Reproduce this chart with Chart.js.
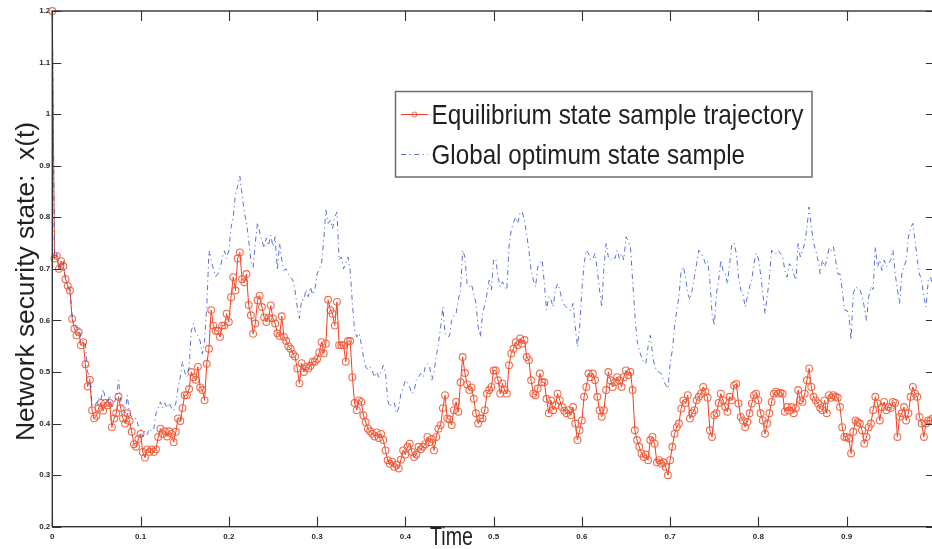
<!DOCTYPE html>
<html>
<head>
<meta charset="utf-8">
<script src="https://cdn.jsdelivr.net/npm/chart.js@4.4.1/dist/chart.umd.min.js"></script>
<style>
  html, body { margin: 0; padding: 0; background: #fff; overflow: hidden; }
  #wrap { position: relative; width: 940px; height: 549px; }
</style>
</head>
<body>
<div id="wrap"><canvas id="chart" width="940" height="549"></canvas></div>
<script>
// Sampling interval of both trajectories
const timeStep = 0.0025;

// Equilibrium state sample trajectory, one value per time step
const equilibriumState = [
  1.2, 0.72, 0.725, 0.70, 0.715, 0.705, 0.68, 0.667, 0.658, 0.603, 0.584, 0.571, 0.577, 0.552, 0.558, 0.515, 0.472, 0.485, 0.426, 0.41,
  0.415, 0.43, 0.44, 0.425, 0.44, 0.435, 0.44, 0.393, 0.41, 0.42, 0.452, 0.43, 0.41, 0.40, 0.42, 0.405, 0.384, 0.36, 0.355, 0.37,
  0.38, 0.345, 0.334, 0.35, 0.345, 0.35, 0.345, 0.35, 0.374, 0.39, 0.38, 0.385, 0.375, 0.385, 0.38, 0.364, 0.384, 0.41, 0.405, 0.43,
  0.455, 0.455, 0.467, 0.50, 0.49, 0.485, 0.51, 0.47, 0.465, 0.445, 0.516, 0.545, 0.62, 0.59, 0.58, 0.58, 0.568, 0.59, 0.59, 0.613,
  0.597, 0.645, 0.684, 0.658, 0.72, 0.732, 0.68, 0.674, 0.69, 0.63, 0.61, 0.574, 0.594, 0.639, 0.648, 0.626, 0.606, 0.597, 0.605, 0.629,
  0.604, 0.594, 0.575, 0.57, 0.608, 0.568, 0.56, 0.55, 0.545, 0.535, 0.53, 0.507, 0.478, 0.517, 0.50, 0.51, 0.507, 0.512, 0.52, 0.52,
  0.525, 0.538, 0.558, 0.536, 0.555, 0.64, 0.62, 0.613, 0.59, 0.636, 0.552, 0.552, 0.552, 0.52, 0.56, 0.56, 0.49, 0.44, 0.426, 0.445,
  0.442, 0.416, 0.403, 0.39, 0.385, 0.38, 0.375, 0.383, 0.372, 0.38, 0.368, 0.348, 0.329, 0.322, 0.326, 0.316, 0.32, 0.313, 0.33, 0.348,
  0.34, 0.355, 0.361, 0.345, 0.335, 0.34, 0.355, 0.35, 0.355, 0.36, 0.374, 0.364, 0.37, 0.348, 0.374, 0.39, 0.397, 0.43, 0.455, 0.41,
  0.408, 0.397, 0.426, 0.442, 0.423, 0.48, 0.529, 0.498, 0.476, 0.465, 0.47, 0.448, 0.42, 0.40, 0.41, 0.41, 0.426, 0.458, 0.465, 0.471,
  0.503, 0.503, 0.484, 0.458, 0.478, 0.465, 0.458, 0.513, 0.536, 0.545, 0.558, 0.552, 0.565, 0.555, 0.562, 0.529, 0.523, 0.484, 0.458, 0.455,
  0.468, 0.497, 0.48, 0.48, 0.448, 0.42, 0.445, 0.426, 0.435, 0.458, 0.445, 0.432, 0.425, 0.42, 0.426, 0.416, 0.432, 0.40, 0.368, 0.387,
  0.406, 0.452, 0.471, 0.497, 0.49, 0.497, 0.484, 0.452, 0.426, 0.413, 0.426, 0.465, 0.50, 0.484, 0.471, 0.48, 0.49, 0.484, 0.471, 0.49,
  0.503, 0.494, 0.50, 0.465, 0.387, 0.368, 0.355, 0.342, 0.335, 0.34, 0.329, 0.368, 0.374, 0.361, 0.325, 0.329, 0.322, 0.325, 0.316, 0.30,
  0.329, 0.355, 0.38, 0.393, 0.40, 0.429, 0.445, 0.44, 0.455, 0.41, 0.42, 0.426, 0.445, 0.452, 0.458, 0.471, 0.462, 0.45, 0.387, 0.374,
  0.416, 0.42, 0.44, 0.458, 0.445, 0.432, 0.423, 0.452, 0.445, 0.474, 0.477, 0.439, 0.413, 0.406, 0.393, 0.403, 0.42, 0.439, 0.455, 0.458,
  0.445, 0.42, 0.406, 0.38, 0.40, 0.42, 0.442, 0.458, 0.462, 0.458, 0.46, 0.458, 0.423, 0.432, 0.425, 0.432, 0.42, 0.43, 0.465, 0.445,
  0.442, 0.458, 0.484, 0.507, 0.471, 0.452, 0.445, 0.439, 0.43, 0.426, 0.445, 0.42, 0.455, 0.45, 0.455, 0.452, 0.45, 0.432, 0.393, 0.374,
  0.374, 0.371, 0.342, 0.384, 0.406, 0.403, 0.40, 0.387, 0.361, 0.374, 0.393, 0.40, 0.426, 0.452, 0.439, 0.406, 0.432, 0.442, 0.426, 0.432,
  0.43, 0.442, 0.44, 0.374, 0.413, 0.42, 0.432, 0.406, 0.42, 0.452, 0.471, 0.458, 0.452, 0.413, 0.40, 0.374, 0.40, 0.406, 0.406, 0.41
];

// Global optimum state sample, one value per time step
const globalOptimumState = [
  1.2, 0.72, 0.73, 0.71, 0.70, 0.715, 0.68, 0.665, 0.66, 0.61, 0.595, 0.585, 0.59, 0.565, 0.56, 0.555, 0.50, 0.49, 0.44, 0.432,
  0.44, 0.45, 0.445, 0.467, 0.45, 0.44, 0.455, 0.43, 0.44, 0.45, 0.484, 0.445, 0.43, 0.42, 0.455, 0.42, 0.413, 0.41, 0.41, 0.395,
  0.39, 0.374, 0.385, 0.378, 0.39, 0.385, 0.39, 0.42, 0.43, 0.442, 0.43, 0.44, 0.43, 0.44, 0.43, 0.425, 0.44, 0.47, 0.49, 0.52,
  0.50, 0.49, 0.51, 0.58, 0.594, 0.575, 0.57, 0.56, 0.535, 0.56, 0.626, 0.735, 0.716, 0.70, 0.685, 0.69, 0.70, 0.72, 0.735, 0.72,
  0.735, 0.78, 0.80, 0.845, 0.86, 0.88, 0.845, 0.81, 0.79, 0.755, 0.716, 0.703, 0.75, 0.79, 0.77, 0.755, 0.74, 0.76, 0.745, 0.765,
  0.743, 0.762, 0.697, 0.75, 0.717, 0.697, 0.70, 0.69, 0.684, 0.678, 0.659, 0.626, 0.604, 0.64, 0.64, 0.66, 0.646, 0.665, 0.65, 0.66,
  0.69, 0.70, 0.71, 0.755, 0.814, 0.788, 0.794, 0.778, 0.80, 0.81, 0.717, 0.723, 0.70, 0.71, 0.723, 0.697, 0.633, 0.58, 0.568, 0.575,
  0.555, 0.53, 0.51, 0.505, 0.51, 0.503, 0.49, 0.50, 0.49, 0.50, 0.513, 0.50, 0.445, 0.432, 0.44, 0.44, 0.42, 0.43, 0.458, 0.47,
  0.484, 0.478, 0.47, 0.458, 0.465, 0.484, 0.49, 0.497, 0.49, 0.51, 0.516, 0.51, 0.484, 0.50, 0.53, 0.555, 0.587, 0.626, 0.575, 0.568,
  0.57, 0.60, 0.61, 0.613, 0.64, 0.659, 0.736, 0.723, 0.671, 0.665, 0.67, 0.652, 0.633, 0.587, 0.568, 0.613, 0.63, 0.652, 0.678, 0.659,
  0.717, 0.72, 0.684, 0.665, 0.675, 0.665, 0.659, 0.743, 0.775, 0.79, 0.80, 0.788, 0.81, 0.81, 0.794, 0.765, 0.736, 0.697, 0.678, 0.665,
  0.704, 0.71, 0.717, 0.671, 0.62, 0.646, 0.64, 0.626, 0.66, 0.671, 0.659, 0.64, 0.63, 0.626, 0.62, 0.62, 0.633, 0.587, 0.549, 0.587,
  0.659, 0.71, 0.736, 0.73, 0.717, 0.72, 0.73, 0.697, 0.659, 0.626, 0.704, 0.749, 0.723, 0.717, 0.723, 0.72, 0.736, 0.72, 0.73, 0.717,
  0.762, 0.755, 0.743, 0.678, 0.613, 0.562, 0.542, 0.529, 0.52, 0.516, 0.549, 0.571, 0.536, 0.51, 0.503, 0.50, 0.497, 0.484, 0.475, 0.468,
  0.516, 0.542, 0.587, 0.62, 0.646, 0.697, 0.704, 0.684, 0.652, 0.64, 0.659, 0.684, 0.71, 0.736, 0.73, 0.723, 0.71, 0.715, 0.678, 0.613,
  0.59, 0.652, 0.678, 0.717, 0.697, 0.69, 0.671, 0.71, 0.749, 0.75, 0.73, 0.684, 0.659, 0.652, 0.626, 0.646, 0.665, 0.678, 0.71, 0.73,
  0.72, 0.69, 0.652, 0.613, 0.646, 0.684, 0.736, 0.73, 0.73, 0.736, 0.73, 0.723, 0.697, 0.684, 0.71, 0.704, 0.69, 0.678, 0.749, 0.723,
  0.736, 0.749, 0.78, 0.82, 0.781, 0.75, 0.736, 0.717, 0.69, 0.717, 0.704, 0.717, 0.74, 0.735, 0.743, 0.717, 0.69, 0.69, 0.659, 0.62,
  0.62, 0.613, 0.562, 0.652, 0.665, 0.662, 0.66, 0.646, 0.626, 0.60, 0.646, 0.665, 0.66, 0.743, 0.704, 0.717, 0.697, 0.717, 0.704, 0.71,
  0.717, 0.736, 0.69, 0.66, 0.633, 0.69, 0.704, 0.717, 0.762, 0.78, 0.788, 0.755, 0.717, 0.69, 0.678, 0.646, 0.626, 0.678, 0.684, 0.67
];

const seriesNames = ['Equilibrium state sample trajectory', 'Global optimum state sample'];
const xAxisTitle = 'Time';
const yAxisTitle = 'Network security state:  x(t)';

const INK = '#231f20';
const AXIS_INK = '#333333';

const toPoints = values => values.map((v, i) => ({ x: +(i * timeStep).toFixed(4), y: v }));
const tickText = v => String(Math.round(v * 10) / 10);

// Box frame with short inward ticks on all four sides
const frameTicks = {
  id: 'frameTicks',
  afterDatasetsDraw(chart) {
    const { ctx, chartArea: a, scales: { x, y } } = chart;
    ctx.save();
    ctx.strokeStyle = AXIS_INK;
    ctx.lineWidth = 1.1;
    ctx.beginPath();
    x.ticks.forEach(t => {
      const px = Math.round(x.getPixelForValue(t.value)) + 0.5;
      ctx.moveTo(px, a.bottom); ctx.lineTo(px, a.bottom - 10);
      ctx.moveTo(px, a.top); ctx.lineTo(px, a.top + 10);
    });
    y.ticks.forEach(t => {
      const py = Math.round(y.getPixelForValue(t.value)) + 0.5;
      ctx.moveTo(a.left, py); ctx.lineTo(a.left + 9, py);
      ctx.moveTo(a.right, py); ctx.lineTo(a.right - 9, py);
    });
    ctx.stroke();
    ctx.lineWidth = 1.4;
    ctx.strokeRect(a.left, a.top, a.right - a.left, a.bottom - a.top);
    ctx.restore();
  }
};

// Axis titles, placed as in the printed figure
const axisTitles = {
  id: 'axisTitles',
  afterDraw(chart) {
    const ctx = chart.ctx;
    const xt = chart.options.scales.x.title.text;
    const yt = chart.options.scales.y.title.text;
    ctx.save();
    ctx.fillStyle = INK;
    ctx.textAlign = 'center';
    ctx.textBaseline = 'alphabetic';
    ctx.font = '25px "Liberation Sans", Arial, sans-serif';
    ctx.fillText(xt, 451.5, 545, 43);
    ctx.font = '26.5px "Liberation Sans", Arial, sans-serif';
    ctx.translate(33.5, 281.5);
    ctx.rotate(-Math.PI / 2);
    ctx.fillText(yt, 0, 0, 319);
    ctx.restore();
  }
};

// Boxed legend inside the plot
const boxLegend = {
  id: 'boxLegend',
  afterDraw(chart) {
    const ctx = chart.ctx;
    const [eq, go] = chart.data.datasets;
    ctx.save();
    ctx.fillStyle = '#ffffff';
    ctx.fillRect(395.5, 91.5, 416.5, 85.5);
    ctx.strokeStyle = '#6e6e6e';
    ctx.lineWidth = 1.5;
    ctx.strokeRect(395.5, 91.5, 416.5, 85.5);

    ctx.lineWidth = 1;
    ctx.strokeStyle = eq.borderColor;
    ctx.beginPath(); ctx.moveTo(401, 114.5); ctx.lineTo(428, 114.5); ctx.stroke();
    ctx.strokeStyle = eq.pointBorderColor;
    ctx.beginPath(); ctx.arc(414.5, 114.5, 2.5, 0, 2 * Math.PI); ctx.stroke();

    ctx.strokeStyle = go.borderColor;
    ctx.setLineDash(go.borderDash);
    ctx.beginPath(); ctx.moveTo(401, 154.5); ctx.lineTo(428, 154.5); ctx.stroke();
    ctx.setLineDash([]);

    ctx.fillStyle = INK;
    ctx.font = '28px "Liberation Sans", Arial, sans-serif';
    ctx.textAlign = 'left';
    ctx.textBaseline = 'alphabetic';
    ctx.fillText(eq.label, 431.5, 124, 372);
    ctx.fillText(go.label, 431.5, 164, 313.5);
    ctx.restore();
  }
};

new Chart(document.getElementById('chart'), {
  type: 'line',
  data: {
    datasets: [
      {
        label: seriesNames[0],
        data: toPoints(equilibriumState),
        borderColor: '#ef4026',
        borderWidth: 1,
        pointStyle: 'circle',
        pointRadius: 3.4,
        pointBorderWidth: 1.1,
        pointBorderColor: 'rgba(240,88,52,0.88)',
        pointBackgroundColor: 'rgba(0,0,0,0)',
        tension: 0,
        clip: false,
        order: 1
      },
      {
        label: seriesNames[1],
        data: toPoints(globalOptimumState),
        borderColor: 'rgba(62,88,200,0.85)',
        borderWidth: 1,
        borderDash: [5, 3.5, 1.2, 3.5],
        pointRadius: 0,
        tension: 0,
        clip: false,
        order: 0
      }
    ]
  },
  options: {
    responsive: false,
    animation: false,
    devicePixelRatio: 1,
    events: [],
    layout: { padding: { left: 0, right: 0.7, top: 11, bottom: 0 } },
    plugins: { legend: { display: false }, tooltip: { enabled: false } },
    scales: {
      x: {
        type: 'linear',
        min: 0,
        max: 1,
        title: { display: false, text: xAxisTitle },
        grid: { display: false, drawTicks: false },
        border: { display: false },
        afterFit(scale) { scale.height = 22.3; },
        ticks: {
          stepSize: 0.1,
          autoSkip: false,
          maxRotation: 0,
          padding: 5,
          color: '#2a2a2a',
          font: { family: '"Liberation Sans", Arial, sans-serif', size: 8, weight: 'bold' },
          callback: v => (Math.round(v * 10) === 10 ? '' : tickText(v))
        }
      },
      y: {
        type: 'linear',
        min: 0.2,
        max: 1.2,
        title: { display: false, text: yAxisTitle },
        grid: { display: false, drawTicks: false },
        border: { display: false },
        afterFit(scale) { scale.width = 52.3; },
        ticks: {
          stepSize: 0.1,
          autoSkip: false,
          padding: 2,
          color: '#2a2a2a',
          font: { family: '"Liberation Sans", Arial, sans-serif', size: 8, weight: 'bold' },
          callback: v => tickText(v)
        }
      }
    }
  },
  plugins: [frameTicks, axisTitles, boxLegend]
});
</script>
</body>
</html>
